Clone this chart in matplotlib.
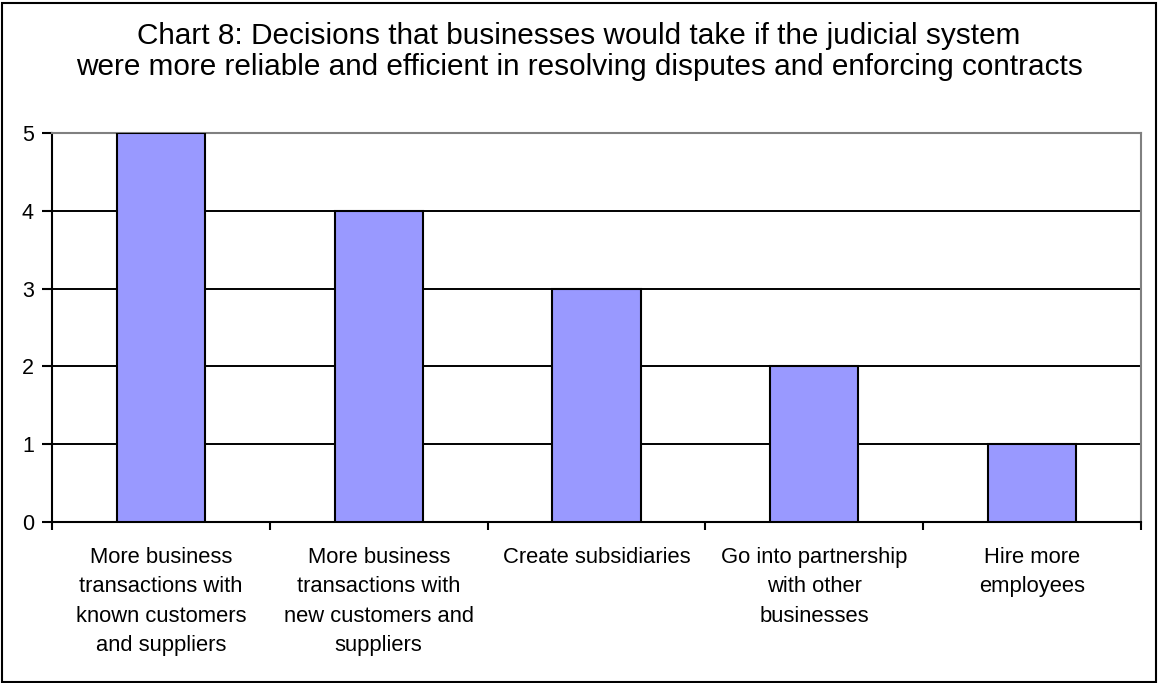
import matplotlib
matplotlib.use("Agg")
import matplotlib.pyplot as plt
from matplotlib.patches import Rectangle

plt.rcParams['font.family'] = ['Liberation Sans', 'DejaVu Sans']

categories = [
    "More business\ntransactions with\nknown customers\nand suppliers",
    "More business\ntransactions with\nnew customers and\nsuppliers",
    "Create subsidiaries",
    "Go into partnership\nwith other\nbusinesses",
    "Hire more\nemployees",
]
values = [5, 4, 3, 2, 1]
y_ticks = [0, 1, 2, 3, 4, 5]
title = ("Chart 8: Decisions that businesses would take if the judicial system\n"
         "were more reliable and efficient in resolving disputes and enforcing contracts")

fig = plt.figure(figsize=(11.58, 6.83), dpi=100)
ax = fig.add_axes([52 / 1158, 1 - 522 / 683, (1141 - 52) / 1158, (522 - 133) / 683])

x = list(range(len(values)))
ax.bar(x, values, width=0.405, color="#9999FF", edgecolor="black", linewidth=1.5, zorder=3)

ax.set_xlim(-0.5, len(values) - 0.5)
ax.set_ylim(0, 5)
ax.set_yticks(y_ticks)
ax.set_yticklabels([str(v) for v in y_ticks], fontsize=15.5)
ax.yaxis.grid(True, color="black", linewidth=1.4, zorder=0)
ax.set_axisbelow(True)

ax.set_xticks(x)
ax.set_xticklabels(categories, fontsize=15.8, linespacing=1.53, va="top")
ax.tick_params(axis="x", which="major", length=0, pad=18)
ax.set_xticks([i - 0.5 for i in range(len(values) + 1)], minor=True)
ax.tick_params(axis="x", which="minor", length=6, width=1.5, direction="out")
ax.tick_params(axis="y", length=7, width=1.5, direction="out", pad=6)

for side in ("left", "bottom"):
    ax.spines[side].set_color("black")
    ax.spines[side].set_linewidth(1.5)
for side in ("top", "right"):
    ax.spines[side].set_color("#808080")
    ax.spines[side].set_linewidth(1.5)

fig.text(0.5, 1 - 51.5 / 683, title, ha="center", va="center", fontsize=21.4, linespacing=1.1)

fig.add_artist(Rectangle((1.5 / 1158, 1.5 / 683), 1 - 3.5 / 1158, 1 - 4 / 683,
                         transform=fig.transFigure, fill=False, edgecolor="black", linewidth=1.5))

fig.savefig("out.png", dpi=100)
